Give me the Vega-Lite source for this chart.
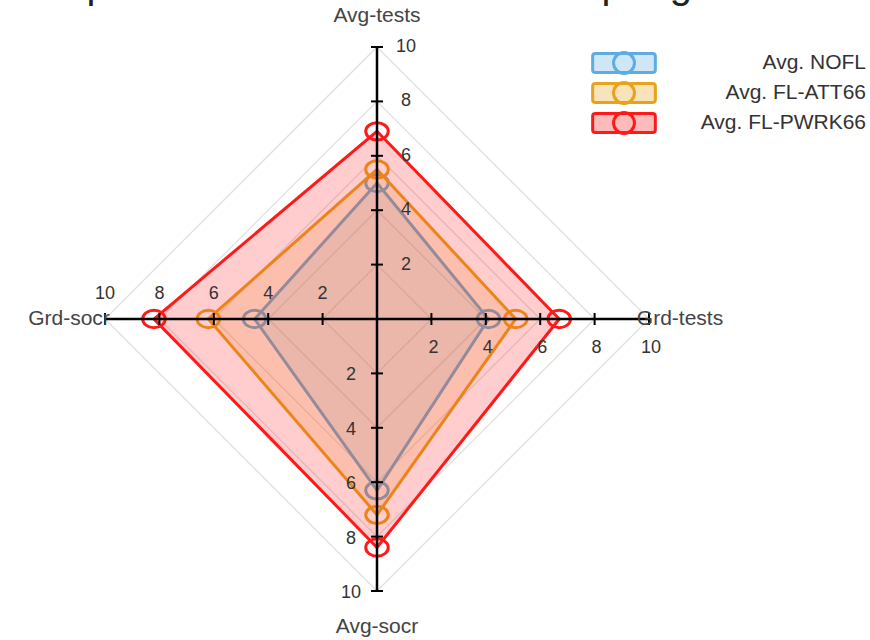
{
  "$schema": "https://vega.github.io/schema/vega-lite/v6.json",
  "width": 544,
  "height": 544,
  "autosize": {"type": "none"},
  "padding": {"left": 105, "top": 47, "right": 221, "bottom": 49},
  "background": "white",
  "config": {
    "view": {"stroke": null},
    "font": "Liberation Sans",
    "legend": {"labelFontSize": 21, "labelColor": "#333", "labelAlign": "right", "labelLimit": 300, "symbolSize": 361, "symbolStrokeWidth": 3, "labelOffset": 231, "rowPadding": -4}
  },
  "title": {"text": "GrapeCTT 2021 : Evaluation simpAvges", "fontSize": 40, "fontWeight": "normal", "color": "#222", "anchor": "middle", "baseline": "alphabetic", "offset": 0, "dy": 33},
  "datasets": {
    "series": [
      {"series": "Avg. NOFL", "axis": "Avg-tests", "value": 5.0},
      {"series": "Avg. NOFL", "axis": "Grd-tests", "value": 4.1},
      {"series": "Avg. NOFL", "axis": "Avg-socr", "value": 6.3},
      {"series": "Avg. NOFL", "axis": "Grd-socr", "value": 4.5},
      {"series": "Avg. FL-ATT66", "axis": "Avg-tests", "value": 5.5},
      {"series": "Avg. FL-ATT66", "axis": "Grd-tests", "value": 5.1},
      {"series": "Avg. FL-ATT66", "axis": "Avg-socr", "value": 7.2},
      {"series": "Avg. FL-ATT66", "axis": "Grd-socr", "value": 6.2},
      {"series": "Avg. FL-PWRK66", "axis": "Avg-tests", "value": 6.9},
      {"series": "Avg. FL-PWRK66", "axis": "Grd-tests", "value": 6.7},
      {"series": "Avg. FL-PWRK66", "axis": "Avg-socr", "value": 8.4},
      {"series": "Avg. FL-PWRK66", "axis": "Grd-socr", "value": 8.2}
    ],
    "scale": [
      {"axis": "Avg-tests", "level": 2}, {"axis": "Avg-tests", "level": 4}, {"axis": "Avg-tests", "level": 6}, {"axis": "Avg-tests", "level": 8}, {"axis": "Avg-tests", "level": 10},
      {"axis": "Grd-tests", "level": 2}, {"axis": "Grd-tests", "level": 4}, {"axis": "Grd-tests", "level": 6}, {"axis": "Grd-tests", "level": 8}, {"axis": "Grd-tests", "level": 10},
      {"axis": "Avg-socr", "level": 2}, {"axis": "Avg-socr", "level": 4}, {"axis": "Avg-socr", "level": 6}, {"axis": "Avg-socr", "level": 8}, {"axis": "Avg-socr", "level": 10},
      {"axis": "Grd-socr", "level": 2}, {"axis": "Grd-socr", "level": 4}, {"axis": "Grd-socr", "level": 6}, {"axis": "Grd-socr", "level": 8}, {"axis": "Grd-socr", "level": 10}
    ]
  },
  "encoding": {
    "x": {"field": "x", "type": "quantitative", "scale": {"domain": [-10, 10], "nice": false, "zero": false}, "axis": null},
    "y": {"field": "y", "type": "quantitative", "scale": {"domain": [-10, 10], "nice": false, "zero": false}, "axis": null}
  },
  "layer": [
    {
      "data": {"name": "scale"},
      "transform": [
        {"calculate": "datum.axis === 'Grd-tests' ? datum.level : (datum.axis === 'Grd-socr' ? -datum.level : 0)", "as": "x"},
        {"calculate": "datum.axis === 'Avg-tests' ? datum.level : (datum.axis === 'Avg-socr' ? -datum.level : 0)", "as": "y"},
        {"calculate": "indexof(['Avg-tests','Grd-tests','Avg-socr','Grd-socr'], datum.axis)", "as": "k"}
      ],
      "mark": {"type": "line", "interpolate": "linear-closed", "stroke": "#e0e0e0", "strokeWidth": 1.3},
      "encoding": {"detail": {"field": "level", "type": "nominal"}, "order": {"field": "k", "type": "quantitative"}}
    },
    {
      "data": {"name": "series"},
      "transform": [
        {"filter": "datum.series === 'Avg. NOFL'"},
        {"calculate": "datum.axis === 'Grd-tests' ? datum.value : (datum.axis === 'Grd-socr' ? -datum.value : 0)", "as": "x"},
        {"calculate": "datum.axis === 'Avg-tests' ? datum.value : (datum.axis === 'Avg-socr' ? -datum.value : 0)", "as": "y"},
        {"calculate": "indexof(['Avg-tests','Grd-tests','Avg-socr','Grd-socr'], datum.axis)", "as": "k"}
      ],
      "layer": [
        {
          "mark": {"type": "line", "interpolate": "linear-closed", "strokeWidth": 3, "fillOpacity": 0.16},
          "encoding": {
            "order": {"field": "k", "type": "quantitative"},
            "stroke": {"field": "series", "type": "nominal",
              "scale": {"domain": ["Avg. NOFL", "Avg. FL-ATT66", "Avg. FL-PWRK66"], "range": ["#5dade2", "#e8a21b", "#ff1a1a"]},
              "legend": {"title": null, "orient": "none", "legendX": 508, "legendY": 5,
                "symbolType": "M-3.3,-0.7Q-3.3,-1,-3,-1H3Q3.3,-1,3.3,-0.7V0.7Q3.3,1,3,1H-3Q-3.3,1,-3.3,0.7ZM-1.1,0A1.1,1.1,0,1,1,1.1,0A1.1,1.1,0,1,1,-1.1,0Z",
                "encode": {"symbols": {"update": {"fillOpacity": {"value": 0.3}, "strokeWidth": {"value": 3}}}}}},
            "fill": {"field": "series", "type": "nominal",
              "scale": {"domain": ["Avg. NOFL", "Avg. FL-ATT66", "Avg. FL-PWRK66"], "range": ["#5dade2", "#e8a21b", "#ff1a1a"]},
              "legend": {"title": null, "orient": "none", "legendX": 508, "legendY": 5,
                "symbolType": "M-3.3,-0.7Q-3.3,-1,-3,-1H3Q3.3,-1,3.3,-0.7V0.7Q3.3,1,3,1H-3Q-3.3,1,-3.3,0.7ZM-1.1,0A1.1,1.1,0,1,1,1.1,0A1.1,1.1,0,1,1,-1.1,0Z",
                "encode": {"symbols": {"update": {"fillOpacity": {"value": 0.3}, "strokeWidth": {"value": 3}}}}}}
          }
        },
        {
          "mark": {"type": "point", "filled": false, "strokeWidth": 3, "size": 300, "shape": "M-1.3,0A1.3,1,0,1,0,1.3,0A1.3,1,0,1,0,-1.3,0Z", "opacity": 1},
          "encoding": {"stroke": {"field": "series", "type": "nominal", "legend": null}}
        }
      ]
    },
    {
      "data": {"name": "series"},
      "transform": [
        {"filter": "datum.series === 'Avg. FL-ATT66'"},
        {"calculate": "datum.axis === 'Grd-tests' ? datum.value : (datum.axis === 'Grd-socr' ? -datum.value : 0)", "as": "x"},
        {"calculate": "datum.axis === 'Avg-tests' ? datum.value : (datum.axis === 'Avg-socr' ? -datum.value : 0)", "as": "y"},
        {"calculate": "indexof(['Avg-tests','Grd-tests','Avg-socr','Grd-socr'], datum.axis)", "as": "k"}
      ],
      "layer": [
        {
          "mark": {"type": "line", "interpolate": "linear-closed", "strokeWidth": 3, "fillOpacity": 0.18},
          "encoding": {
            "order": {"field": "k", "type": "quantitative"},
            "stroke": {"field": "series", "type": "nominal"},
            "fill": {"field": "series", "type": "nominal"}
          }
        },
        {
          "mark": {"type": "point", "filled": false, "strokeWidth": 3, "size": 300, "shape": "M-1.3,0A1.3,1,0,1,0,1.3,0A1.3,1,0,1,0,-1.3,0Z", "opacity": 1},
          "encoding": {"stroke": {"field": "series", "type": "nominal"}}
        }
      ]
    },
    {
      "data": {"name": "series"},
      "transform": [
        {"filter": "datum.series === 'Avg. FL-PWRK66'"},
        {"calculate": "datum.axis === 'Grd-tests' ? datum.value : (datum.axis === 'Grd-socr' ? -datum.value : 0)", "as": "x"},
        {"calculate": "datum.axis === 'Avg-tests' ? datum.value : (datum.axis === 'Avg-socr' ? -datum.value : 0)", "as": "y"},
        {"calculate": "indexof(['Avg-tests','Grd-tests','Avg-socr','Grd-socr'], datum.axis)", "as": "k"}
      ],
      "layer": [
        {
          "mark": {"type": "line", "interpolate": "linear-closed", "strokeWidth": 3, "fillOpacity": 0.22},
          "encoding": {
            "order": {"field": "k", "type": "quantitative"},
            "stroke": {"field": "series", "type": "nominal"},
            "fill": {"field": "series", "type": "nominal"}
          }
        },
        {
          "mark": {"type": "point", "filled": false, "strokeWidth": 3, "size": 300, "shape": "M-1.3,0A1.3,1,0,1,0,1.3,0A1.3,1,0,1,0,-1.3,0Z", "opacity": 1},
          "encoding": {"stroke": {"field": "series", "type": "nominal"}}
        }
      ]
    },
    {
      "data": {"name": "scale"},
      "transform": [
        {"filter": "datum.level === 10"},
        {"calculate": "datum.axis === 'Grd-tests' ? datum.level : (datum.axis === 'Grd-socr' ? -datum.level : 0)", "as": "x"},
        {"calculate": "datum.axis === 'Avg-tests' ? datum.level : (datum.axis === 'Avg-socr' ? -datum.level : 0)", "as": "y"}
      ],
      "mark": {"type": "rule", "color": "#000", "strokeWidth": 2.5},
      "encoding": {
        "x": {"datum": 0, "type": "quantitative"},
        "y": {"datum": 0, "type": "quantitative"},
        "x2": {"field": "x"},
        "y2": {"field": "y"}
      }
    },
    {
      "data": {"name": "scale"},
      "transform": [
        {"calculate": "datum.axis === 'Grd-tests' ? datum.level : (datum.axis === 'Grd-socr' ? -datum.level : 0)", "as": "x"},
        {"calculate": "datum.axis === 'Avg-tests' ? datum.level : (datum.axis === 'Avg-socr' ? -datum.level : 0)", "as": "y"}
      ],
      "mark": {"type": "point", "filled": false, "stroke": "#000", "strokeWidth": 2, "size": 144, "opacity": 1},
      "encoding": {
        "shape": {"condition": {"test": "datum.x === 0", "value": "stroke"}, "value": "M0,-1L0,1"}
      }
    },
    {
      "data": {"name": "scale"},
      "transform": [
        {"filter": "datum.axis === 'Avg-tests'"},
        {"calculate": "0", "as": "x"},
        {"calculate": "datum.level", "as": "y"}
      ],
      "mark": {"type": "text", "dx": 29, "fontSize": 18, "color": "#333", "align": "center", "baseline": "middle"},
      "encoding": {"text": {"field": "level"}}
    },
    {
      "data": {"name": "scale"},
      "transform": [
        {"filter": "datum.axis === 'Grd-tests'"},
        {"calculate": "datum.level", "as": "x"},
        {"calculate": "0", "as": "y"}
      ],
      "mark": {"type": "text", "dx": 2, "dy": 29, "fontSize": 18, "color": "#333", "align": "center", "baseline": "middle"},
      "encoding": {"text": {"field": "level"}}
    },
    {
      "data": {"name": "scale"},
      "transform": [
        {"filter": "datum.axis === 'Avg-socr'"},
        {"calculate": "0", "as": "x"},
        {"calculate": "-datum.level", "as": "y"}
      ],
      "mark": {"type": "text", "dx": -26, "dy": 2, "fontSize": 18, "color": "#333", "align": "center", "baseline": "middle"},
      "encoding": {"text": {"field": "level"}}
    },
    {
      "data": {"name": "scale"},
      "transform": [
        {"filter": "datum.axis === 'Grd-socr'"},
        {"calculate": "-datum.level", "as": "x"},
        {"calculate": "0", "as": "y"}
      ],
      "mark": {"type": "text", "dy": -25, "fontSize": 18, "color": "#333", "align": "center", "baseline": "middle"},
      "encoding": {"text": {"field": "level"}}
    },
    {
      "data": {"name": "scale"},
      "transform": [
        {"filter": "datum.axis === 'Avg-tests' && datum.level === 10"},
        {"calculate": "0", "as": "x"},
        {"calculate": "datum.level", "as": "y"}
      ],
      "mark": {"type": "text", "dy": -31, "fontSize": 21, "color": "#444", "align": "center", "baseline": "middle"},
      "encoding": {"text": {"field": "axis"}}
    },
    {
      "data": {"name": "scale"},
      "transform": [
        {"filter": "datum.axis === 'Grd-tests' && datum.level === 10"},
        {"calculate": "datum.level", "as": "x"},
        {"calculate": "0", "as": "y"}
      ],
      "mark": {"type": "text", "dx": 31, "fontSize": 21, "color": "#444", "align": "center", "baseline": "middle"},
      "encoding": {"text": {"field": "axis"}}
    },
    {
      "data": {"name": "scale"},
      "transform": [
        {"filter": "datum.axis === 'Avg-socr' && datum.level === 10"},
        {"calculate": "0", "as": "x"},
        {"calculate": "-datum.level", "as": "y"}
      ],
      "mark": {"type": "text", "dy": 36, "fontSize": 21, "color": "#444", "align": "center", "baseline": "middle"},
      "encoding": {"text": {"field": "axis"}}
    },
    {
      "data": {"name": "scale"},
      "transform": [
        {"filter": "datum.axis === 'Grd-socr' && datum.level === 10"},
        {"calculate": "-datum.level", "as": "x"},
        {"calculate": "0", "as": "y"}
      ],
      "mark": {"type": "text", "dx": -36, "fontSize": 21, "color": "#444", "align": "center", "baseline": "middle"},
      "encoding": {"text": {"field": "axis"}}
    }
  ]
}
